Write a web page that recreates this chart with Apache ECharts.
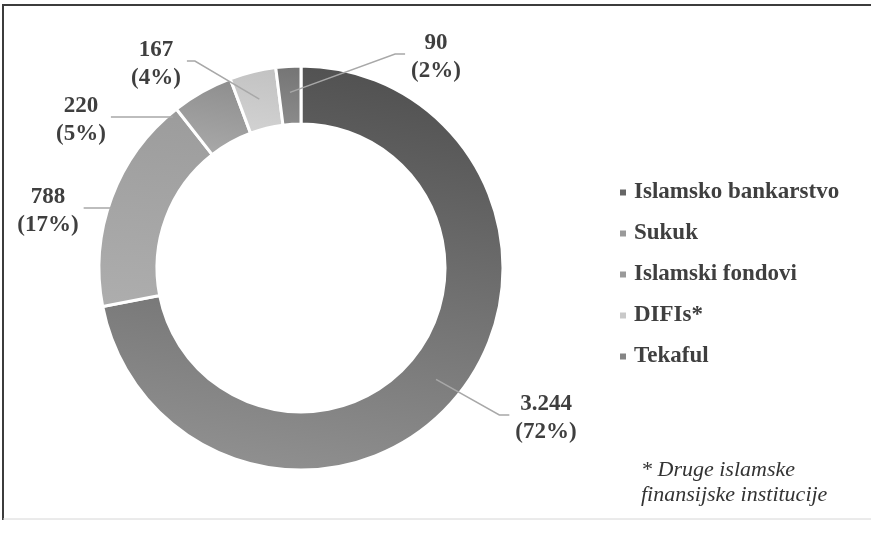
<!DOCTYPE html>
<html>
<head>
<meta charset="utf-8">
<script src="https://cdn.jsdelivr.net/npm/echarts@6/dist/echarts.min.js"></script>
<style>
  html, body { margin: 0; padding: 0; background: #fff; }
  #chart { width: 871px; height: 533px; }
</style>
</head>
<body>
<div id="chart"></div>
<script>
var categories = ['Islamsko bankarstvo', 'Sukuk', 'Islamski fondovi', 'DIFIs*', 'Tekaful'];
var values = [3244, 788, 220, 167, 90];
var footnote = ['* Druge islamske', 'finansijske institucije'];

// grey shades, top -> bottom of each slice
var sliceColors = [
  ['#515151', '#909090'],
  ['#9c9c9c', '#adadad'],
  ['#8e8e8e', '#a9a9a9'],
  ['#c2c2c2', '#d2d2d2'],
  ['#747474', '#8c8c8c']
];
var legendColors = ['#666666', '#9a9a9a', '#9a9a9a', '#c9c9c9', '#858585'];

var CX = 301, CY = 268, R_IN = 144, R_OUT = 202;

// where each label sits, and how its leader line runs
var labelSpots = [
  { x: 546, y: 418, side: 'left', kind: 'bend', depth: 27 },
  { x: 48, y: 211, side: 'right', kind: 'flat', depth: 4 },
  { x: 81, y: 120, side: 'right', kind: 'flat', depth: 4 },
  { x: 156, y: 64, side: 'right', kind: 'bend', depth: 28 },
  { x: 436, y: 57, side: 'left', kind: 'bend', depth: 26 }
];

function fmt(v) {
  return String(v).replace(/\B(?=(\d{3})+(?!\d))/g, '.');
}

var dom = document.getElementById('chart');
var myChart = echarts.init(dom, null, { renderer: 'canvas' });

var seriesData = categories.map(function (name, i) {
  return {
    name: name,
    value: values[i],
    itemStyle: {
      color: new echarts.graphic.LinearGradient(0.6, 0, 0.4, 1, [
        { offset: 0, color: sliceColors[i][0] },
        { offset: 1, color: sliceColors[i][1] }
      ])
    }
  };
});

// same values again, invisible, only to carry labels above the ring
var labelData = categories.map(function (name, i) {
  return { name: name, value: values[i] };
});

var legendData = categories.map(function (name, i) {
  return { name: name, itemStyle: { color: legendColors[i] } };
});

var serif = '"Liberation Serif", "DejaVu Serif", serif';

var option = {
  backgroundColor: '#ffffff',
  animation: false,
  legend: {
    orient: 'vertical',
    left: 613,
    top: 176,
    icon: 'rect',
    itemWidth: 8,
    itemHeight: 8,
    itemGap: 18,
    selectedMode: false,
    data: legendData,
    textStyle: {
      fontFamily: serif,
      fontWeight: 'bold',
      fontSize: 23,
      lineHeight: 23,
      color: '#3f3f3f',
      padding: [0, 0, 0, 2]
    }
  },
  graphic: [
    { type: 'line', shape: { x1: 2, y1: 5, x2: 871, y2: 5 }, style: { stroke: '#3c3c3c', lineWidth: 2 } },
    { type: 'line', shape: { x1: 3, y1: 4, x2: 3, y2: 520 }, style: { stroke: '#3c3c3c', lineWidth: 2 } },
    { type: 'line', shape: { x1: 3, y1: 519, x2: 871, y2: 519 }, style: { stroke: '#d6d6d6', lineWidth: 1 } },
    {
      type: 'text',
      left: 641,
      top: 458,
      style: {
        text: footnote.join('\n'),
        fontFamily: serif,
        fontStyle: 'italic',
        fontSize: 22,
        lineHeight: 25,
        fill: '#333333'
      }
    }
  ],
  series: [
    {
      type: 'pie',
      z: 2,
      center: [CX, CY],
      radius: [R_IN, R_OUT],
      startAngle: 90,
      clockwise: true,
      silent: true,
      itemStyle: { borderColor: '#ffffff', borderWidth: 3 },
      label: { show: false },
      labelLine: { show: false },
      data: seriesData
    },
    {
      type: 'pie',
      z: 4,
      center: [CX, CY],
      radius: [R_IN, R_OUT],
      startAngle: 90,
      clockwise: true,
      silent: true,
      percentPrecision: 0,
      avoidLabelOverlap: false,
      itemStyle: { color: 'rgba(0,0,0,0)', borderWidth: 0 },
      label: {
        show: true,
        position: 'outside',
        formatter: function (p) {
          return fmt(p.value) + '\n(' + p.percent + '%)';
        },
        fontFamily: serif,
        fontWeight: 'bold',
        fontSize: 23,
        lineHeight: 28,
        color: '#3f3f3f',
        align: 'center'
      },
      labelLine: {
        show: true,
        showAbove: true,
        length: 10,
        length2: 10,
        lineStyle: { color: '#a8a8a8', width: 1.5 }
      },
      labelLayout: function (params) {
        var s = labelSpots[params.dataIndex];
        var w = params.labelRect.width;
        var endX = s.side === 'left' ? s.x - w / 2 - 6 : s.x + w / 2 + 6;
        var endY = s.y - 3;
        var pts;
        if (s.kind === 'flat') {
          var r = R_OUT - s.depth;
          var dy = endY - CY;
          var sx = CX - Math.sqrt(r * r - dy * dy);
          pts = [[sx, endY], [endX - 1, endY], [endX, endY]];
        } else {
          var p0 = params.labelLinePoints ? params.labelLinePoints[0] : [CX, CY - R_OUT];
          var dx = p0[0] - CX, dy2 = p0[1] - CY;
          var len = Math.sqrt(dx * dx + dy2 * dy2) || 1;
          var rr = R_OUT - s.depth;
          var start = [CX + dx / len * rr, CY + dy2 / len * rr];
          var bendX = s.side === 'left' ? endX - 10 : endX + 8;
          pts = [start, [bendX, endY], [endX, endY]];
        }
        return {
          x: s.x,
          y: s.y,
          align: 'center',
          verticalAlign: 'middle',
          labelLinePoints: pts
        };
      },
      data: labelData
    }
  ]
};

if (option && typeof option === 'object') {
  myChart.setOption(option);
}

window.addEventListener('resize', myChart.resize);
</script>
</body>
</html>
